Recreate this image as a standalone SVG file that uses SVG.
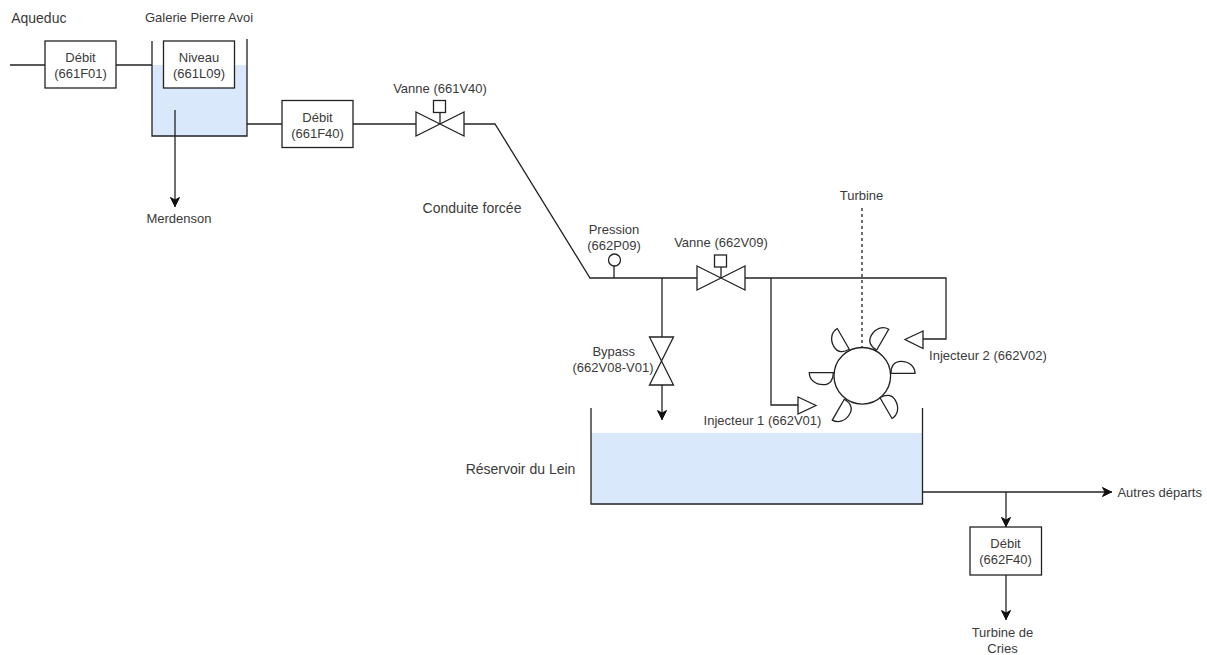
<svg xmlns="http://www.w3.org/2000/svg" xmlns:xlink="http://www.w3.org/1999/xlink" width="1207" height="655" viewBox="0 0 1207 655">
<style>
text{font-family:"Liberation Sans",Arial,sans-serif;font-size:13px;fill:#3a3a3a;text-anchor:middle}
text.big{font-size:14px}
.l{fill:none;stroke:#222;stroke-width:1.3}
.b{fill:#fff;stroke:#222;stroke-width:1.3}
.w{fill:#dae8fc;stroke:none}
.a{marker-end:url(#arr)}
</style>
<defs>
<marker id="arr" markerUnits="userSpaceOnUse" markerWidth="12" markerHeight="12" refX="10" refY="5" orient="auto"><path d="M0.500,0.500L9.500,5L0.500,9.500L3,5Z" fill="#111" stroke="#111" stroke-width="1"/></marker>
<path id="blade" d="M0,0L24,0C24,-7 18,-12 10,-12C3,-12 0,-7 0,0Z" class="b"/>
<g id="valveH"><path d="M-24,-12L24,12L24,-12L-24,12Z" class="b"/></g>
</defs>
<rect width="1207" height="655" fill="#fff"/>
<g id="tank-galerie"><rect class="w" x="152" y="65" width="95" height="71"/><path class="l" d="M152,41V136H247V39"/></g>
<g id="tank-lein"><rect class="w" x="591" y="433" width="331" height="71"/><path class="l" d="M591,408V504H922.500V408"/></g>
<g id="connectors">
<path class="l" d="M10,65H45M116,65H152"/>
<path class="l a" d="M175,110V207"/>
<path class="l" d="M247,124H282M353,124H416M464,124H495L590,278H697"/>
<path class="l" d="M440,113V124M614,266V278M721,267V278"/>
<path class="l" d="M745,278H946V339H923M771,278V405H798"/>
<path class="l" d="M662,278V338"/>
<path class="l a" d="M662,384V420"/>
<path class="l a" d="M922,492H1112"/>
<path class="l a" d="M1006,492V527"/>
<path class="l a" d="M1006,575V620"/>
<path class="l" stroke-dasharray="3 3" d="M862,208V348"/>
</g>
<g id="debit-661F01"><rect class="b" x="45" y="41" width="71" height="47"/><text x="80.500" y="62">Débit</text><text x="80.500" y="78">(661F01)</text></g>
<g id="niveau-661L09"><rect class="b" x="163.500" y="41" width="71" height="47"/><text x="199" y="62">Niveau</text><text x="199" y="78">(661L09)</text></g>
<g id="debit-661F40"><rect class="b" x="282" y="100.500" width="71" height="47"/><text x="317.500" y="121.500">Débit</text><text x="317.500" y="137.500">(661F40)</text></g>
<g id="debit-662F40"><rect class="b" x="970" y="527" width="71.500" height="48"/><text x="1005.500" y="548">Débit</text><text x="1005.500" y="564">(662F40)</text></g>
<g id="vanne-661V40"><use xlink:href="#valveH" href="#valveH" transform="translate(440,124)"/><rect class="b" x="433.500" y="100.500" width="12" height="12"/></g>
<g id="vanne-662V09"><use xlink:href="#valveH" href="#valveH" transform="translate(721,278)"/><rect class="b" x="714.500" y="255" width="12" height="12"/></g>
<g id="bypass"><use xlink:href="#valveH" href="#valveH" transform="translate(661.500,361) rotate(90)"/></g>
<g id="pression"><circle class="b" cx="614.500" cy="260" r="6"/></g>
<g id="injecteur-1"><path class="b" d="M798,397L816,405.500L798,414Z"/></g>
<g id="injecteur-2"><path class="b" d="M923,331L905,339.500L923,348.500Z"/></g>
<g id="turbine">
<circle class="b" cx="862.300" cy="375.800" r="28.300"/>
<use xlink:href="#blade" href="#blade" transform="translate(891,373.300)"/>
<use xlink:href="#blade" href="#blade" transform="translate(876.700,350) rotate(-60)"/>
<use xlink:href="#blade" href="#blade" transform="translate(849.300,349.300) rotate(-120)"/>
<use xlink:href="#blade" href="#blade" transform="translate(833.300,372.700) rotate(180)"/>
<use xlink:href="#blade" href="#blade" transform="translate(844.300,399.300) rotate(120)"/>
<use xlink:href="#blade" href="#blade" transform="translate(880,397.700) rotate(60)"/>
</g>
<g id="labels">
<text class="big" x="38.800" y="23">Aqueduc</text>
<text x="199" y="22">Galerie Pierre Avoi</text>
<text x="179" y="223">Merdenson</text>
<text x="440" y="92.500">Vanne (661V40)</text>
<text class="big" x="472" y="212.500">Conduite forcée</text>
<text x="614" y="234">Pression</text>
<text x="614" y="250">(662P09)</text>
<text x="721" y="247">Vanne (662V09)</text>
<text x="861.500" y="200">Turbine</text>
<text x="613.700" y="356">Bypass</text>
<text x="613" y="372">(662V08-V01)</text>
<text x="762.500" y="425">Injecteur 1 (662V01)</text>
<text x="988" y="360">Injecteur 2 (662V02)</text>
<text class="big" x="520.500" y="474">Réservoir du Lein</text>
<text x="1159.700" y="496.500">Autres départs</text>
<text x="1002.500" y="637">Turbine de</text>
<text x="1002.500" y="653">Cries</text>
</g>
</svg>
